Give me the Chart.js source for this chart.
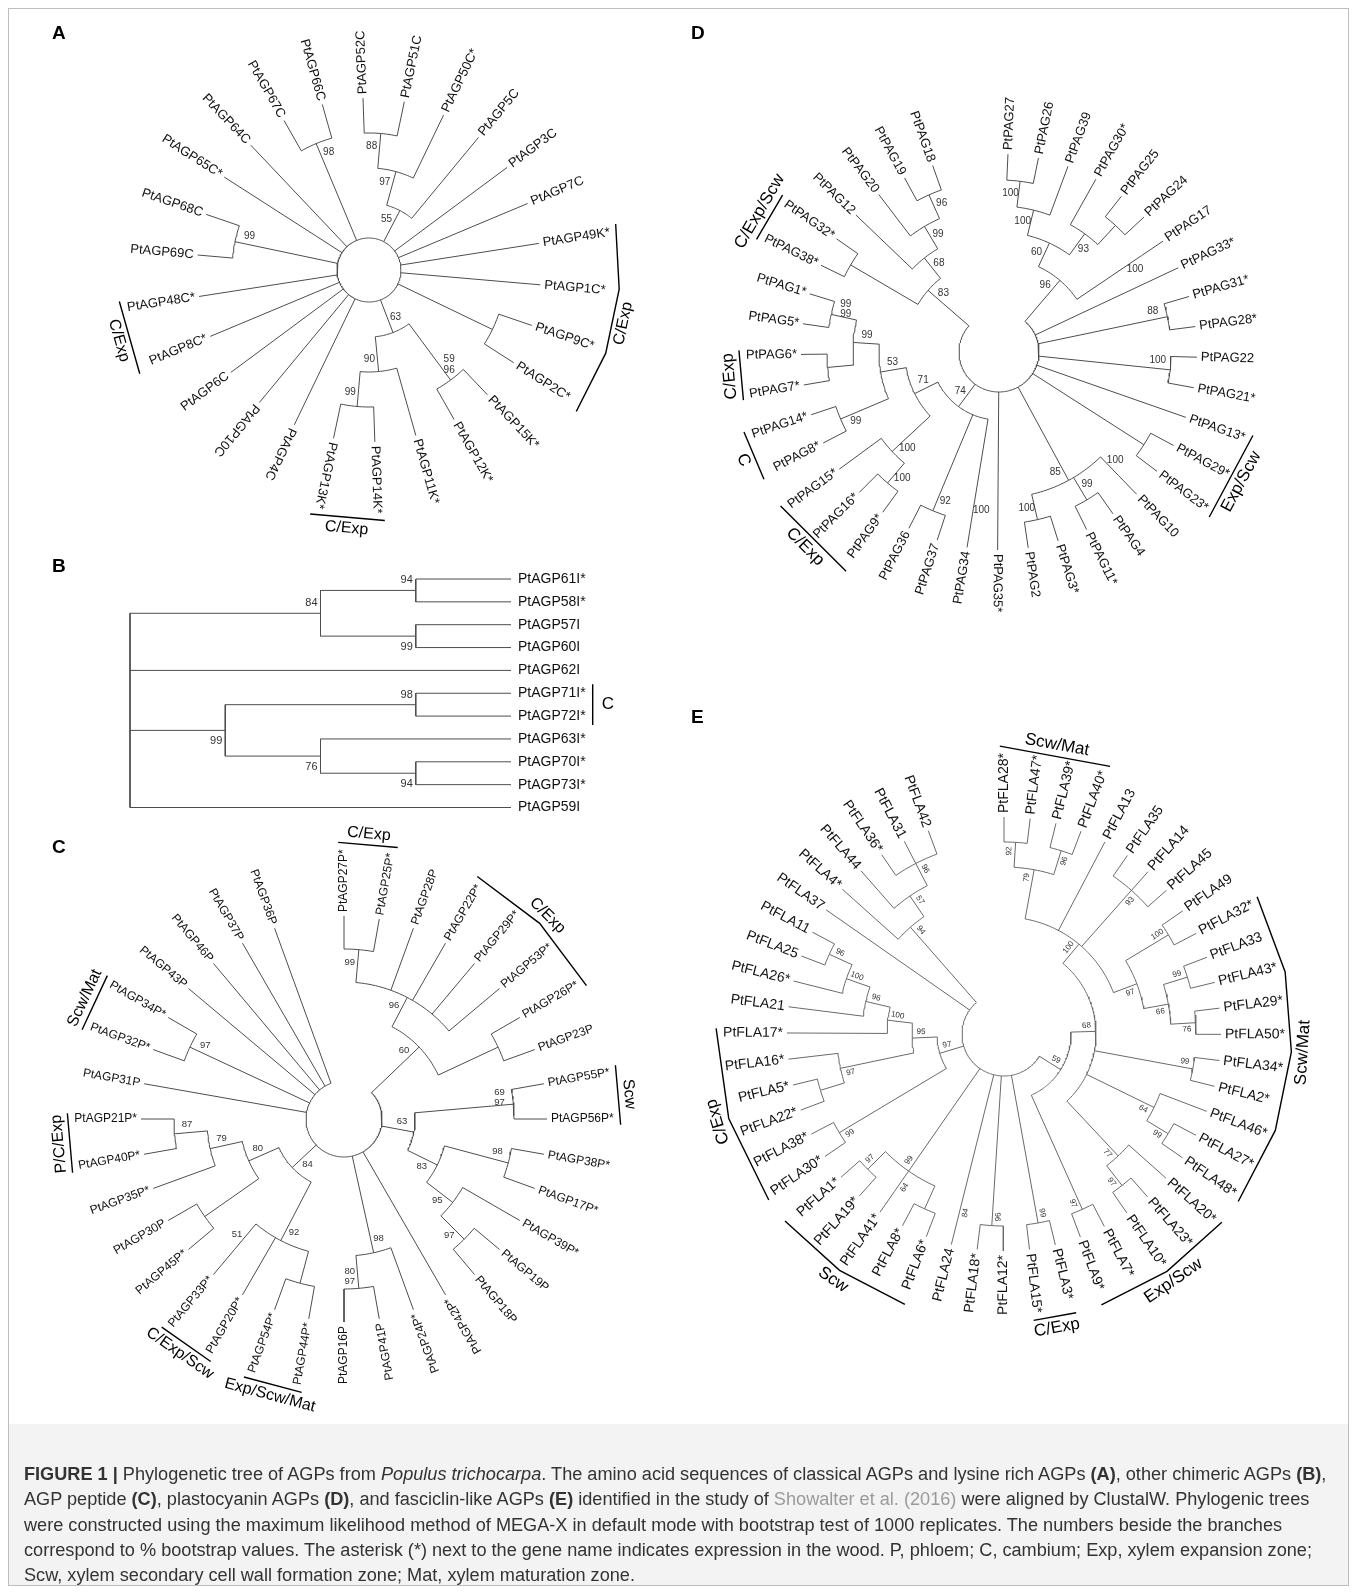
<!DOCTYPE html>
<html lang="en">
<head>
<meta charset="utf-8">
<title>Phylogenetic trees of AGPs from Populus trichocarpa</title>
<script src="https://cdn.jsdelivr.net/npm/chart.js@4.4.1/dist/chart.umd.min.js"></script>
<style>
  html, body { margin:0; padding:0; background:#ffffff; }
  #page { position:relative; width:1357px; height:1593px; overflow:hidden; background:#fff; }
  #frame { position:absolute; left:8px; top:8px; width:1341px; height:1578px; border:1px solid #bdbdbd; box-sizing:border-box; }
  #capbg { position:absolute; left:9px; top:1424px; width:1339px; height:161px; background:#f3f3f3; }
  #trees { position:absolute; left:0; top:0; }
  #caption { position:absolute; left:24px; top:1462px; font-family:"Liberation Sans", Arial, Helvetica, sans-serif; color:#333; white-space:nowrap; font-size:16px; }
  #caption div { height:25.3px; line-height:25.3px; }
  #caption .ref { color:#9a9a9a; }
</style>
</head>
<body>
<div id="page">
  <div id="frame"></div>
  <div id="capbg"></div>
  <canvas id="trees" width="1357" height="1593"></canvas>
  <div id="caption">
    <div><span><b>FIGURE 1 |</b> Phylogenetic tree of AGPs from <i>Populus trichocarpa</i>. The amino acid sequences of classical AGPs and lysine rich AGPs <b>(A)</b>, other chimeric AGPs <b>(B)</b>,</span></div>
    <div><span>AGP peptide <b>(C)</b>, plastocyanin AGPs <b>(D)</b>, and fasciclin-like AGPs <b>(E)</b> identified in the study of <span class="ref">Showalter et al. (2016)</span> were aligned by ClustalW. Phylogenic trees</span></div>
    <div><span>were constructed using the maximum likelihood method of MEGA-X in default mode with bootstrap test of 1000 replicates. The numbers beside the branches</span></div>
    <div><span>correspond to % bootstrap values. The asterisk (*) next to the gene name indicates expression in the wood. P, phloem; C, cambium; Exp, xylem expansion zone;</span></div>
    <div><span>Scw, xylem secondary cell wall formation zone; Mat, xylem maturation zone.</span></div>
  </div>
</div>
<script>
// ---------------------------------------------------------------
// Tree data. Leaves are listed clockwise (A, C, D, E) or top to
// bottom (B); trees are Newick strings over leaf indices, with
// bootstrap support written after each closing bracket.
// ---------------------------------------------------------------

// A: classical and lysine-rich AGPs
const leavesA = ["PtAGP52C","PtAGP51C","PtAGP50C*","PtAGP5C","PtAGP3C","PtAGP7C","PtAGP49K*","PtAGP1C*",
  "PtAGP9C*","PtAGP2C*","PtAGP15K*","PtAGP12K*","PtAGP11K*","PtAGP14K*","PtAGP13K*","PtAGP4C","PtAGP10C",
  "PtAGP6C","PtAGP8C*","PtAGP48C*","PtAGP69C","PtAGP68C","PtAGP65C*","PtAGP64C","PtAGP67C","PtAGP66C"];
const treeA = "((((0,1)88,2)97,3)55,4,5,6,7,(8,9),((10,11)59/96,(12,(13,14)99)90)63,15,16,17,18,19,(20,21)99,22,23,(24,25)98)";
const groupsA = [["C/Exp",6,9],["C/Exp",13,14],["C/Exp",18,19]];

// B: other chimeric AGPs
const leavesB = ["PtAGP61I*","PtAGP58I*","PtAGP57I","PtAGP60I","PtAGP62I","PtAGP71I*","PtAGP72I*",
  "PtAGP63I*","PtAGP70I*","PtAGP73I*","PtAGP59I"];
const treeB = "(((0,1)94,(2,3)99)84,4,((5,6)98,(7,(8,9)94)76)99,10)";
const groupsB = [["C",5,6]];

// C: AGP peptides
const leavesC = ["PtAGP27P*","PtAGP25P*","PtAGP28P","PtAGP22P*","PtAGP29P*","PtAGP53P*","PtAGP26P*","PtAGP23P",
  "PtAGP55P*","PtAGP56P*","PtAGP38P*","PtAGP17P*","PtAGP39P*","PtAGP19P","PtAGP18P","PtAGP42P*","PtAGP24P*",
  "PtAGP41P","PtAGP16P","PtAGP44P*","PtAGP54P*","PtAGP20P*","PtAGP33P*","PtAGP45P*","PtAGP30P","PtAGP35P*",
  "PtAGP40P*","PtAGP21P*","PtAGP31P","PtAGP32P*","PtAGP34P*","PtAGP43P","PtAGP46P","PtAGP37P","PtAGP36P"];
const treeC = "((((0,1)99,2,3,4,5)96,(6,7))60,((8,9)69/97,((10,11)98,(12,(13,14)97)95)83)63,15,(16,(17,18)80/97)98,(((19,20),21,(22)51)92,((23,24),(25,(26,27)87)79)80)84,28,(29,30)97,31,32,33,34)";
const groupsC = [["C/Exp",0,1],["C/Exp",3,6],["Scw",8,9],["Exp/Scw/Mat",19,20],["C/Exp/Scw",21,22],["P/C/Exp",26,27],["Scw/Mat",29,30]];

// D: plastocyanin AGPs
const leavesD = ["PtPAG27","PtPAG26","PtPAG39","PtPAG30*","PtPAG25","PtPAG24","PtPAG17","PtPAG33*","PtPAG31*",
  "PtPAG28*","PtPAG22","PtPAG21*","PtPAG13*","PtPAG29*","PtPAG23*","PtPAG10","PtPAG4","PtPAG11*","PtPAG3*",
  "PtPAG2","PtPAG35*","PtPAG34","PtPAG37","PtPAG36","PtPAG9*","PtPAG16*","PtPAG15*","PtPAG8*","PtPAG14*",
  "PtPAG7*","PtPAG6*","PtPAG5*","PtPAG1*","PtPAG38*","PtPAG32*","PtPAG12","PtPAG20","PtPAG19","PtPAG18"];
const treeD = "(((((0,1)100,2)100,(3,(4,5))93)60,(6)100)96,7,(8,9)88,(10,11)100,12,(13,14),((15)100,(16,17)99,(18,19)100)85,20,((21)100,(22,23)92,(((24,25)100,26)100,((27,28)99,((29,30),(31,32)99/99)99)53)71)74,((33,34),(35,(36,(37,38)96)99)68)83)";
const groupsD = [["Exp/Scw",12,14],["C/Exp",24,26],["C",27,28],["C/Exp",29,30],["C/Exp/Scw",33,34]];

// E: fasciclin-like AGPs
const leavesE = ["PtFLA28*","PtFLA47*","PtFLA39*","PtFLA40*","PtFLA13","PtFLA35","PtFLA14","PtFLA45","PtFLA49",
  "PtFLA32*","PtFLA33","PtFLA43*","PtFLA29*","PtFLA50*","PtFLA34*","PtFLA2*","PtFLA46*","PtFLA27*","PtFLA48*",
  "PtFLA20*","PtFLA23*","PtFLA10*","PtFLA7*","PtFLA9*","PtFLA3*","PtFLA15*","PtFLA12*","PtFLA18*","PtFLA24",
  "PtFLA6*","PtFLA8*","PtFLA41*","PtFLA19*","PtFLA1*","PtFLA30*","PtFLA38*","PtFLA22*","PtFLA5*","PtFLA16*",
  "PtFLA17*","PtFLA21","PtFLA26*","PtFLA25","PtFLA11","PtFLA37","PtFLA4*","PtFLA44","PtFLA36*","PtFLA31","PtFLA42"];
const treeE = "((((((0,1)92,(2,3)96)79,4,(5,6,7)93,((8,9)100,((10,11)99,(12,13)76)66)97)100,(14,15)99,(16,(17,18)99)64,(19,(20,21)97)77)68,(22,23)97)59,(24,25)99,(26,27)96,(28)84,((29,30),(31)64,(32,33)97)99,((34,35)99,(((36,37),38)97,(39,(40,(41,(42,43)96)100)96)100)95)97,44,(45,(46,(47,48,49)96)57)94)";
const groupsE = [["Scw/Mat",0,3],["Scw/Mat",9,18],["Exp/Scw",19,23],["C/Exp",24,25],["Scw",29,33],["C/Exp",34,39]];

// ---------------------------------------------------------------
// Page layout for each panel (page pixels, degrees counter-clockwise).
// "upper" is the arc of angles whose group captions read with their
// tops pointing away from the centre.
// ---------------------------------------------------------------
const FONT = '"Liberation Sans", Arial, Helvetica, sans-serif';
const layoutA = { cx:369, cy:270, start:92, step:13.85, leafR:172, hStep:35, rootR:32, fullRoot:true, flip:[95,225], upper:[0,190],
  leafFont:13, bsFont:10, groupFont:16, bsRotate:false, lineColor:'#4d4d4d' };
const layoutC = { cx:344, cy:1119, start:90, step:10, leafR:203, hStep:33, rootR:38, flip:[90,305], upper:[300,190],
  leafFont:12, bsFont:9.5, groupFont:16, bsRotate:false, lineColor:'#4d4d4d' };
const layoutD = { cx:999, cy:352, start:87.4, step:8.89, leafR:198, hStep:26, rootR:40, flip:[90,266], upper:[0,200],
  leafFont:13, bsFont:10, groupFont:17, bsRotate:false, lineColor:'#4d4d4d' };
const layoutE = { cx:1004, cy:1034, start:90, step:6.93, leafR:217, hStep:25, rootR:42, flip:[90,272], upper:[0,200],
  leafFont:14, bsFont:8, groupFont:17, bsRotate:true, lineColor:'#6a6a6a' };
const layoutB = { leafX:511, rootX:130, top:579, row:22.85, leafFont:14, bsFont:11, groupFont:17, lineColor:'#4d4d4d' };
const panelLetters = [["A",52,34],["B",52,567],["C",52,848],["D",691,34],["E",691,718]];

// ---------------------------------------------------------------
// Tree helpers
// ---------------------------------------------------------------
function parseNewick(str) {
  let i = 0;
  function readNode() {
    if (str[i] === '(') {
      i++;
      const kids = [];
      for (;;) {
        kids.push(readNode());
        if (str[i] === ',') { i++; continue; }
        if (str[i] === ')') { i++; break; }
        throw new Error('tree syntax at ' + i);
      }
      let label = '';
      while (i < str.length && /[0-9\/]/.test(str[i])) label += str[i++];
      return { kids, label };
    }
    let num = '';
    while (i < str.length && /[0-9]/.test(str[i])) num += str[i++];
    if (!num) throw new Error('leaf expected at ' + i);
    return { leaf: parseInt(num, 10) };
  }
  return readNode();
}
function setHeights(n) {
  n.h = n.kids ? 1 + Math.max(...n.kids.map(setHeights)) : 0;
  return n.h;
}
const rad = d => d * Math.PI / 180;
const norm = a => ((a % 360) + 360) % 360;
const inRange = (t, [lo, hi]) => lo < hi ? (t > lo && t <= hi) : (t > lo || t <= hi);
const measure = document.createElement('canvas').getContext('2d');
function textWidth(t, px) { measure.font = px + 'px ' + FONT; return measure.measureText(t).width; }

const texts = [];
function addText(o) { texts.push(Object.assign({ rot:0, align:'center', base:'middle', color:'#111' }, o)); }

function circularPanel(leaves, treeStr, groups, L) {
  const root = parseNewick(treeStr);
  setHeights(root);
  const leafAng = i => L.start - i * L.step;
  const pos = (r, a) => ({ x: L.cx + r * Math.cos(rad(a)), y: L.cy - r * Math.sin(rad(a)) });
  (function place(n, isRoot) {
    if (n.kids) {
      n.kids.forEach(k => place(k, false));
      n.ang = (n.kids[0].ang + n.kids[n.kids.length - 1].ang) / 2;
      n.r = isRoot ? L.rootR : L.leafR - n.h * L.hStep;
    } else {
      n.ang = leafAng(n.leaf);
      n.r = L.leafR;
    }
  })(root, true);

  const lines = [], marks = [];
  const arc = (r, a0, a1) => {
    const n = Math.max(2, Math.ceil(Math.abs(a1 - a0) / 1.2) + 1), pts = [];
    for (let i = 0; i < n; i++) pts.push(pos(r, a0 + (a1 - a0) * i / (n - 1)));
    return pts;
  };
  const isFlipped = a => { const t = norm(a); return t > L.flip[0] && t < L.flip[1]; };

  // the root ring: either the full circle or the arc between its outer children
  if (L.fullRoot) lines.push(arc(root.r, 0, 360));
  (function walk(n, isRoot) {
    if (!n.kids) return;
    if (n.kids.length > 1 && !(isRoot && L.fullRoot))
      lines.push(arc(n.r, n.kids[0].ang, n.kids[n.kids.length - 1].ang));
    n.kids.forEach((k, idx) => {
      lines.push([pos(n.r, k.ang), pos(k.r, k.ang)]);
      if (k.kids && k.label) {
        const side = idx < n.kids.length / 2 ? 1 : -1;
        const inward = L.bsRotate ? 9 : 13, along = L.bsRotate ? 6 : 8;
        const rL = k.r - inward;
        const aL = k.ang + side * (along / rL) * 180 / Math.PI;
        const parts = k.label.split('/');
        parts.forEach((p, j) => {
          const off = (j - (parts.length - 1) / 2) * (L.bsFont + 0.5);
          const q = pos(rL, aL);
          if (L.bsRotate) {
            const f = isFlipped(aL);
            addText({ x:q.x, y:q.y, text:p, rot: -rad(f ? aL + 180 : aL), font: L.bsFont + 'px ' + FONT, color:'#333' });
          } else {
            addText({ x:q.x, y:q.y + off, text:p, font: L.bsFont + 'px ' + FONT, color:'#333' });
          }
        });
      }
      walk(k, false);
    });
  })(root, true);

  leaves.forEach((name, i) => {
    const a = leafAng(i), f = isFlipped(a), q = pos(L.leafR + 4, a);
    addText({ x:q.x, y:q.y, text:name, rot: -rad(f ? a + 180 : a), align: f ? 'right' : 'left',
      font: L.leafFont + 'px ' + FONT, color:'#111' });
  });

  groups.forEach(([label, i0, i1]) => {
    const a0 = leafAng(i0) + 0.12 * L.step, a1 = leafAng(i1) - 0.12 * L.step;
    const maxW = Math.max(...leaves.slice(i0, i1 + 1).map(t => textWidth(t, L.leafFont)));
    const r = L.leafR + 4 + maxW + 7;
    const span = Math.abs(a0 - a1), nseg = Math.max(1, Math.round(span / 17));
    const pts = [];
    for (let k = 0; k <= nseg; k++) pts.push(pos(r, a0 + (a1 - a0) * k / nseg));
    marks.push(pts);
    const am = (a0 + a1) / 2, seg = span / nseg;
    const rLine = nseg % 2 === 1 ? r * Math.cos(rad(seg / 2)) : r;
    const upper = inRange(norm(am), L.upper);
    const dir = upper ? am - 90 : am + 90;
    const q = pos(rLine + 3, am);
    addText({ x:q.x, y:q.y, text:label, rot: -rad(dir), base: upper ? 'bottom' : 'top',
      font: L.groupFont + 'px ' + FONT, color:'#000' });
  });
  return { lines, marks };
}

function rectPanel(leaves, treeStr, groups, L) {
  const root = parseNewick(treeStr);
  setHeights(root);
  const dx = (L.leafX - L.rootX) / root.h;
  (function place(n) {
    if (n.kids) {
      n.kids.forEach(place);
      n.y = (n.kids[0].y + n.kids[n.kids.length - 1].y) / 2;
      n.x = L.leafX - n.h * dx;
    } else {
      n.x = L.leafX;
      n.y = L.top + n.leaf * L.row;
    }
  })(root);
  const lines = [], marks = [];
  (function walk(n) {
    if (!n.kids) return;
    lines.push([{ x:n.x, y:n.kids[0].y }, { x:n.x, y:n.kids[n.kids.length - 1].y }]);
    n.kids.forEach((k, idx) => {
      lines.push([{ x:n.x, y:k.y }, { x:k.x, y:k.y }]);
      if (k.kids && k.label) {
        const above = idx < n.kids.length / 2;
        addText({ x:k.x - 3, y:k.y + (above ? -10 : 11), text:k.label, align:'right',
          font: L.bsFont + 'px ' + FONT, color:'#333' });
      }
      walk(k);
    });
  })(root);
  leaves.forEach((name, i) => {
    addText({ x:L.leafX + 7, y:L.top + i * L.row, text:name, align:'left', font: L.leafFont + 'px ' + FONT });
  });
  groups.forEach(([label, i0, i1]) => {
    const maxW = Math.max(...leaves.slice(i0, i1 + 1).map(t => textWidth(t, L.leafFont)));
    const x = L.leafX + 7 + maxW + 7;
    const y0 = L.top + i0 * L.row - 9, y1 = L.top + i1 * L.row + 9;
    marks.push([{ x, y:y0 }, { x, y:y1 }]);
    addText({ x:x + 9, y:(y0 + y1) / 2, text:label, align:'left', font: L.groupFont + 'px ' + FONT, color:'#000' });
  });
  return { lines, marks };
}

// ---------------------------------------------------------------
// Build datasets
// ---------------------------------------------------------------
function flatten(polylines) {
  const out = [];
  polylines.forEach((pl, i) => {
    if (i) out.push({ x:NaN, y:NaN });
    pl.forEach(p => out.push({ x:p.x, y:p.y }));
  });
  return out;
}
const panels = [
  [circularPanel(leavesA, treeA, groupsA, layoutA), layoutA],
  [rectPanel(leavesB, treeB, groupsB, layoutB), layoutB],
  [circularPanel(leavesC, treeC, groupsC, layoutC), layoutC],
  [circularPanel(leavesD, treeD, groupsD, layoutD), layoutD],
  [circularPanel(leavesE, treeE, groupsE, layoutE), layoutE]
];
panelLetters.forEach(([t, x, y]) => addText({ x, y, text:t, align:'left', font:'bold 19px ' + FONT, color:'#000' }));

const datasets = [];
panels.forEach(([p, L]) => {
  datasets.push({ data: flatten(p.lines), showLine:true, borderColor:L.lineColor, borderWidth:1,
    pointRadius:0, spanGaps:false, fill:false });
  datasets.push({ data: flatten(p.marks), showLine:true, borderColor:'#000', borderWidth:1.4,
    pointRadius:0, spanGaps:false, fill:false });
});

const textPlugin = {
  id: 'treeText',
  afterDatasetsDraw(chart) {
    const { ctx, scales:{ x, y } } = chart;
    texts.forEach(t => {
      ctx.save();
      ctx.translate(x.getPixelForValue(t.x), y.getPixelForValue(t.y));
      ctx.rotate(t.rot);
      ctx.font = t.font;
      ctx.fillStyle = t.color;
      ctx.textAlign = t.align;
      ctx.textBaseline = t.base;
      ctx.fillText(t.text, 0, 0);
      ctx.restore();
    });
  }
};

new Chart(document.getElementById('trees'), {
  type: 'scatter',
  data: { datasets },
  options: {
    responsive: false,
    animation: false,
    events: [],
    layout: { padding: 0 },
    plugins: { legend: { display:false }, tooltip: { enabled:false } },
    elements: { point: { radius:0 }, line: { tension:0 } },
    scales: {
      x: { type:'linear', min:0, max:1357, display:false },
      y: { type:'linear', min:0, max:1593, reverse:true, display:false }
    }
  },
  plugins: [textPlugin]
});

// caption: size the type so the first line spans the text block
(function fitCaption() {
  const cap = document.getElementById('caption');
  const first = cap.querySelector('div span');
  const w = first.getBoundingClientRect().width;
  if (w > 0) cap.style.fontSize = (16 * 1303 / w).toFixed(2) + 'px';
})();
</script>
</body>
</html>
